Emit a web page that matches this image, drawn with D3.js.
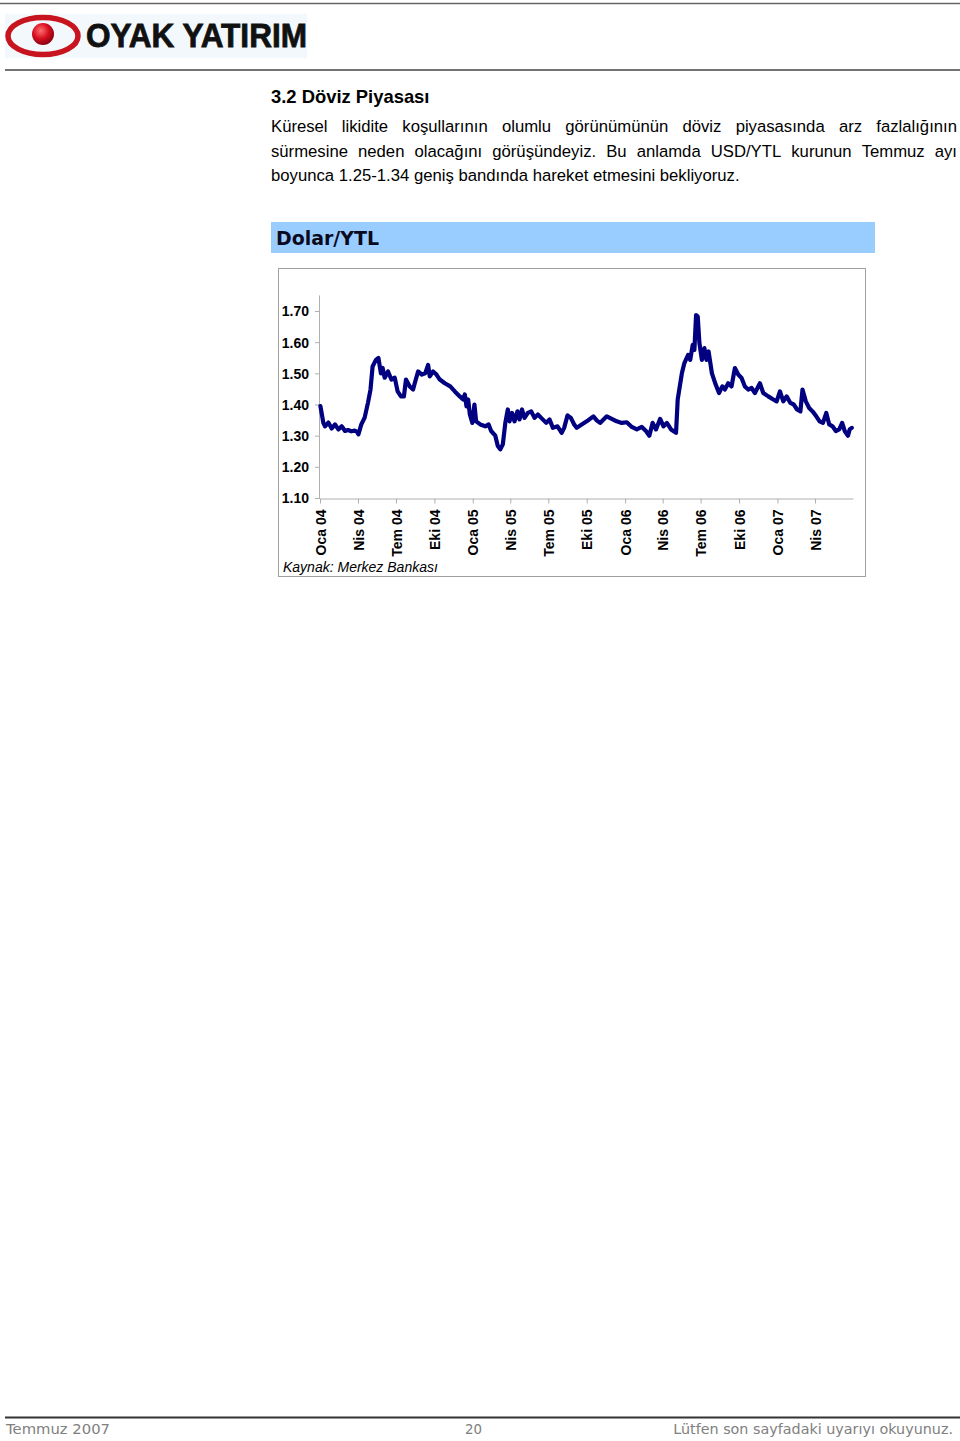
<!DOCTYPE html>
<html><head><meta charset="utf-8">
<script src="https://cdn.jsdelivr.net/npm/d3@7"></script>
<style>body{margin:0;background:#fff}svg{display:block}</style>
</head><body>
<script>
// ---- DATA ----
const dates = ["2004-01-02","2004-01-09","2004-01-13","2004-01-21","2004-01-29","2004-02-06","2004-02-14","2004-02-22","2004-03-01","2004-03-08","2004-03-16","2004-03-24","2004-03-30","2004-04-02","2004-04-09","2004-04-17","2004-04-25","2004-05-01","2004-05-06","2004-05-14","2004-05-20","2004-05-26","2004-05-30","2004-06-04","2004-06-12","2004-06-20","2004-06-28","2004-07-05","2004-07-13","2004-07-20","2004-07-25","2004-08-03","2004-08-11","2004-08-15","2004-08-23","2004-09-01","2004-09-09","2004-09-16","2004-09-20","2004-09-28","2004-10-06","2004-10-14","2004-10-26","2004-11-08","2004-11-19","2004-12-01","2004-12-09","2004-12-13","2004-12-17","2004-12-21","2004-12-25","2004-12-31","2005-01-05","2005-01-09","2005-01-19","2005-01-31","2005-02-08","2005-02-14","2005-02-24","2005-03-02","2005-03-08","2005-03-14","2005-03-20","2005-03-26","2005-03-30","2005-04-05","2005-04-11","2005-04-18","2005-04-23","2005-04-29","2005-05-05","2005-05-13","2005-05-21","2005-05-29","2005-06-06","2005-06-14","2005-06-26","2005-07-04","2005-07-12","2005-07-23","2005-08-02","2005-08-08","2005-08-16","2005-08-24","2005-09-01","2005-09-07","2005-09-19","2005-10-01","2005-10-09","2005-10-17","2005-10-25","2005-11-02","2005-11-18","2005-11-30","2005-12-12","2005-12-24","2006-01-05","2006-01-17","2006-01-29","2006-02-10","2006-02-20","2006-02-28","2006-03-08","2006-03-16","2006-03-26","2006-04-03","2006-04-11","2006-04-21","2006-05-03","2006-05-07","2006-05-12","2006-05-17","2006-05-23","2006-06-01","2006-06-06","2006-06-12","2006-06-16","2006-06-20","2006-06-24","2006-06-28","2006-07-04","2006-07-10","2006-07-15","2006-07-20","2006-07-28","2006-08-06","2006-08-14","2006-08-22","2006-08-28","2006-09-05","2006-09-13","2006-09-21","2006-09-29","2006-10-07","2006-10-15","2006-10-23","2006-10-31","2006-11-08","2006-11-20","2006-11-28","2006-12-10","2006-12-22","2006-12-30","2007-01-07","2007-01-15","2007-01-23","2007-02-01","2007-02-09","2007-02-17","2007-02-25","2007-03-02","2007-03-10","2007-03-18","2007-03-26","2007-04-04","2007-04-12","2007-04-20","2007-04-28","2007-05-05","2007-05-13","2007-05-21","2007-05-29","2007-06-05","2007-06-11","2007-06-19","2007-06-23","2007-06-28"];
const rates = [1.395,1.341,1.330,1.342,1.323,1.336,1.320,1.330,1.315,1.318,1.314,1.316,1.312,1.304,1.336,1.358,1.406,1.448,1.522,1.543,1.549,1.500,1.517,1.486,1.506,1.480,1.486,1.442,1.426,1.426,1.480,1.458,1.448,1.468,1.506,1.496,1.500,1.527,1.490,1.506,1.496,1.480,1.468,1.458,1.442,1.426,1.416,1.432,1.394,1.416,1.368,1.341,1.400,1.346,1.336,1.330,1.336,1.315,1.300,1.267,1.256,1.272,1.341,1.384,1.346,1.373,1.346,1.378,1.352,1.384,1.357,1.373,1.378,1.357,1.368,1.357,1.341,1.352,1.325,1.330,1.309,1.325,1.365,1.357,1.336,1.325,1.336,1.346,1.354,1.362,1.349,1.341,1.362,1.354,1.346,1.341,1.343,1.328,1.320,1.328,1.315,1.300,1.341,1.320,1.354,1.330,1.341,1.320,1.309,1.416,1.458,1.500,1.533,1.559,1.543,1.591,1.575,1.687,1.682,1.597,1.543,1.581,1.543,1.570,1.500,1.464,1.437,1.458,1.448,1.468,1.458,1.517,1.496,1.485,1.458,1.448,1.453,1.437,1.468,1.437,1.426,1.416,1.410,1.442,1.410,1.426,1.405,1.400,1.384,1.378,1.448,1.410,1.389,1.378,1.362,1.346,1.341,1.373,1.336,1.330,1.315,1.320,1.341,1.315,1.300,1.320,1.325];
const yTicks = [1.10,1.20,1.30,1.40,1.50,1.60,1.70];
const xTickLabels = ["Oca 04","Nis 04","Tem 04","Eki 04","Oca 05","Nis 05","Tem 05","Eki 05","Oca 06","Nis 06","Tem 06","Eki 06","Oca 07","Nis 07"];
const chartTitle = "Dolar/YTL";
const sourceNote = "Kaynak: Merkez Bankası";
const sectionTitle = "3.2 Döviz Piyasası";
const bodyLines = [
  "Küresel likidite koşullarının olumlu görünümünün döviz piyasasında arz fazlalığının",
  "sürmesine neden olacağını görüşündeyiz. Bu anlamda USD/YTL kurunun Temmuz ayı",
  "boyunca 1.25-1.34 geniş bandında hareket etmesini bekliyoruz."
];
const footer = ["Temmuz 2007","20","Lütfen son sayfadaki uyarıyı okuyunuz."];

// ---- DRAW ----
const W = 960, H = 1441;
const svg = d3.select("body").append("svg").attr("width", W).attr("height", H);
svg.append("rect").attr("width", W).attr("height", H).attr("fill", "#fff");

// header
svg.append("line").attr("x1",0).attr("x2",960).attr("y1",3.5).attr("y2",3.5).attr("stroke","#666").attr("stroke-width",1.5);
svg.append("line").attr("x1",5).attr("x2",960).attr("y1",70).attr("y2",70).attr("stroke","#444").attr("stroke-width",1.5);
svg.append("rect").attr("x",5).attr("y",14).attr("width",302).attr("height",44).attr("fill","#f2f8fb");
const defs = svg.append("defs");
const rg = defs.append("radialGradient").attr("id","ball").attr("cx","40%").attr("cy","35%").attr("r","65%");
rg.append("stop").attr("offset","0%").attr("stop-color","#ff7070");
rg.append("stop").attr("offset","55%").attr("stop-color","#d81020");
rg.append("stop").attr("offset","100%").attr("stop-color","#8a0010");
svg.append("ellipse").attr("cx",43).attr("cy",36).attr("rx",35).attr("ry",18.5).attr("fill","none").attr("stroke","#c8141e").attr("stroke-width",5.5);
svg.append("circle").attr("cx",43).attr("cy",34).attr("r",11).attr("fill","url(#ball)");
svg.append("text").attr("x",86).attr("y",47).text("OYAK YATIRIM")
  .attr("font-family","Liberation Sans, Arial, sans-serif").attr("font-weight","bold").attr("font-size",33)
  .attr("stroke","#111").attr("stroke-width",0.8)
  .attr("textLength",221).attr("lengthAdjust","spacingAndGlyphs").attr("fill","#111");

// section title and body
svg.append("text").attr("x",271).attr("y",103).text(sectionTitle)
  .attr("font-family","Liberation Sans, Arial, sans-serif").attr("font-weight","bold").attr("font-size",18.4).attr("fill","#000");

const bodyFont = {family:"Liberation Sans, Arial, sans-serif", size:16.7};
const bodyX0 = 271, bodyX1 = 957, baselines = [132,157,181];
bodyLines.forEach((line, i) => {
  const words = line.split(" ");
  const g = svg.append("g");
  const nodes = words.map(w => g.append("text").text(w)
    .attr("font-family", bodyFont.family).attr("font-size", bodyFont.size).attr("fill","#000").attr("y", baselines[i]));
  const widths = nodes.map(n => n.node().getComputedTextLength());
  const total = d3.sum(widths);
  let gap;
  if (i < bodyLines.length - 1) gap = (bodyX1 - bodyX0 - total) / (words.length - 1);
  else gap = bodyFont.size * 0.278;
  let x = bodyX0;
  nodes.forEach((n, k) => { n.attr("x", x); x += widths[k] + gap; });
});

// chart title bar
svg.append("rect").attr("x",271).attr("y",222).attr("width",604).attr("height",31).attr("fill","#99ccff");
svg.append("text").attr("x",276).attr("y",245).text(chartTitle)
  .attr("font-family","DejaVu Sans, Verdana, sans-serif").attr("font-weight","bold").attr("font-size",19)
  .attr("fill","#0a0a1e").attr("textLength",103).attr("lengthAdjust","spacingAndGlyphs");

// chart frame
svg.append("rect").attr("x",278.5).attr("y",268.5).attr("width",587).attr("height",308)
  .attr("fill","#fff").attr("stroke","#a0a0a0").attr("stroke-width",1);

const parse = d3.timeParse("%Y-%m-%d");
const data = dates.map((d, i) => ({date: parse(d), value: rates[i]}));

const x = d3.scaleTime().domain([new Date(2004,0,1), new Date(2007,6,1)]).range([320, 853]);
const y = d3.scaleLinear().domain([1.10, 1.75]).range([498, 295.4]);

const axisFont = "Liberation Sans, Arial, sans-serif";
// y axis
const yAxis = svg.append("g").attr("transform","translate(320,0)")
  .call(d3.axisLeft(y).tickValues(yTicks).tickFormat(d3.format(".2f")).tickSize(5).tickPadding(6));
yAxis.select(".domain").attr("stroke","#b0b0b0").attr("d", `M-0.5,${y.range()[1]}V${y.range()[0]}`);
yAxis.selectAll(".tick line").attr("stroke","#b0b0b0");
yAxis.selectAll(".tick text").attr("font-family",axisFont).attr("font-weight","bold").attr("font-size",14).attr("fill","#000").attr("dy","0.35em");

// x axis
const quarterTicks = d3.timeMonth.every(3).range(new Date(2004,0,1), new Date(2007,6,1));
const xAxis = svg.append("g").attr("transform","translate(0,498.5)")
  .call(d3.axisBottom(x).tickValues(quarterTicks).tickSize(5).tickSizeOuter(0).tickFormat((d,i) => xTickLabels[i]));
xAxis.select(".domain").attr("stroke","#b0b0b0");
xAxis.selectAll(".tick line").attr("stroke","#b0b0b0");
xAxis.selectAll(".tick text")
  .attr("font-family",axisFont).attr("font-weight","bold").attr("font-size",14).attr("fill","#000")
  .attr("transform","rotate(-90)").attr("text-anchor","end").attr("x",-11).attr("y",0).attr("dy","0.36em");

// line
const line = d3.line().x(d => x(d.date)).y(d => y(d.value)).curve(d3.curveLinear);
svg.append("path").datum(data).attr("d", line).attr("fill","none")
  .attr("stroke","#000080").attr("stroke-width",4.2).attr("stroke-linejoin","round").attr("stroke-linecap","round");

// source
svg.append("text").attr("x",283).attr("y",572).text(sourceNote)
  .attr("font-family",axisFont).attr("font-style","italic").attr("font-size",14).attr("fill","#000");

// footer
svg.append("line").attr("x1",5).attr("x2",960).attr("y1",1417.5).attr("y2",1417.5).attr("stroke","#333").attr("stroke-width",1.8);
const ff = "DejaVu Sans, Tahoma, sans-serif";
function fitText(str, xPos, anchor, targetW) {
  const t = svg.append("text").attr("x",xPos).attr("y",1434).attr("text-anchor",anchor).text(str)
    .attr("font-family",ff).attr("font-size",15).attr("fill","#808080");
  const w = t.node().getComputedTextLength();
  t.attr("font-size", Math.min(16, 15 * targetW / w));
  return t;
}
fitText(footer[0], 6, "start", 104);
fitText(footer[1], 465, "start", 17);
fitText(footer[2], 953, "end", 280);
</script>
</body></html>
